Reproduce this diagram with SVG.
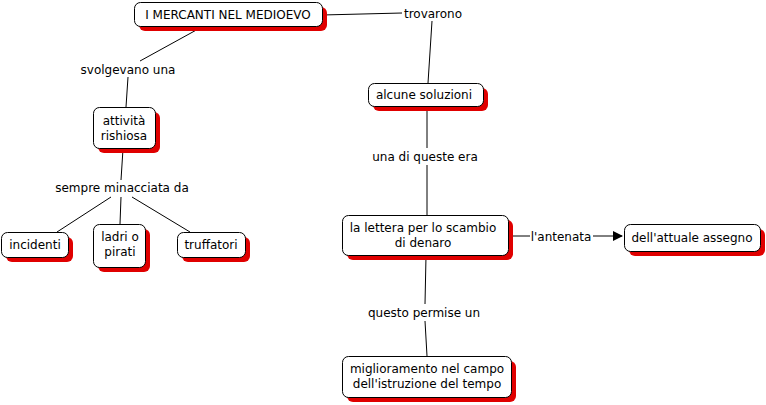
<svg xmlns="http://www.w3.org/2000/svg" width="766" height="405" viewBox="0 0 766 405">
<style>
.sh{fill:#e00000;stroke:none}
.bx{fill:#fff;stroke:#000;stroke-width:1}
text{font-family:"DejaVu Sans",Verdana,sans-serif;font-size:12px;fill:#000;text-anchor:middle}
.ln{stroke:#000;stroke-width:1;fill:none}
</style>
<defs>
<marker id="ar" markerWidth="10" markerHeight="10" refX="9" refY="5" orient="auto" markerUnits="userSpaceOnUse">
<path d="M0,0 L10,5 L0,10 Z" fill="#000"/>
</marker>
</defs>
<rect width="766" height="405" fill="#fff"/>
<g id="connectors">
<line class="ln" x1="200" y1="28" x2="140" y2="61"/>
<line class="ln" x1="128" y1="77" x2="126" y2="107"/>
<line class="ln" x1="322" y1="15" x2="402" y2="13"/>
<line class="ln" x1="432" y1="21" x2="428" y2="83"/>
<line class="ln" x1="427" y1="107" x2="427" y2="148"/>
<line class="ln" x1="427" y1="165" x2="427" y2="215"/>
<line class="ln" x1="508" y1="236" x2="530" y2="236"/>
<line class="ln" x1="593" y1="236" x2="622" y2="236" marker-end="url(#ar)"/>
<line class="ln" x1="426" y1="256" x2="425" y2="304"/>
<line class="ln" x1="425" y1="321" x2="427" y2="356"/>
<line class="ln" x1="123" y1="149" x2="121" y2="180"/>
<line class="ln" x1="111" y1="197" x2="57" y2="232"/>
<line class="ln" x1="121" y1="197" x2="120" y2="224"/>
<line class="ln" x1="132" y1="197" x2="190" y2="232"/>
</g>
<g id="lbl-svolgevano"><text x="128" y="74">svolgevano una</text></g>
<g id="lbl-sempre"><text x="122" y="192">sempre minacciata da</text></g>
<g id="lbl-trovarono"><text x="433" y="18">trovarono</text></g>
<g id="lbl-unadiqueste"><text x="425" y="161">una di queste era</text></g>
<g id="lbl-antenata"><text x="561" y="241">l'antenata</text></g>
<g id="lbl-questo"><text x="424" y="317">questo permise un</text></g>
<g id="n-mercanti">
<rect class="sh" x="139" y="7" width="188" height="24" rx="6"/>
<rect class="bx" x="134.5" y="2.5" width="188" height="24" rx="6"/>
<text x="228" y="19">I MERCANTI NEL MEDIOEVO</text>
</g>
<g id="n-attivita">
<rect class="sh" x="98" y="112" width="62" height="41" rx="6"/>
<rect class="bx" x="93.5" y="107.5" width="62" height="41" rx="6"/>
<text x="124" y="125">attività</text>
<text x="124" y="140">rishiosa</text>
</g>
<g id="n-incidenti">
<rect class="sh" x="6" y="237" width="67" height="25" rx="6"/>
<rect class="bx" x="1.5" y="232.5" width="67" height="25" rx="6"/>
<text x="35" y="249">incidenti</text>
</g>
<g id="n-ladri">
<rect class="sh" x="98" y="229" width="52" height="43" rx="6"/>
<rect class="bx" x="93.5" y="224.5" width="52" height="43" rx="6"/>
<text x="120" y="241">ladri o</text>
<text x="120" y="256">pirati</text>
</g>
<g id="n-truffatori">
<rect class="sh" x="182" y="237" width="68" height="25" rx="6"/>
<rect class="bx" x="177.5" y="232.5" width="68" height="25" rx="6"/>
<text x="211" y="249">truffatori</text>
</g>
<g id="n-alcune">
<rect class="sh" x="373" y="88" width="115" height="23" rx="6"/>
<rect class="bx" x="368.5" y="83.5" width="115" height="23" rx="6"/>
<text x="424" y="99">alcune soluzioni</text>
</g>
<g id="n-lettera">
<rect class="sh" x="347" y="220" width="166" height="40" rx="6"/>
<rect class="bx" x="342.5" y="215.5" width="166" height="40" rx="6"/>
<text x="423" y="232">la lettera per lo scambio</text>
<text x="423" y="247">di denaro</text>
</g>
<g id="n-assegno">
<rect class="sh" x="629" y="229" width="136" height="27" rx="6"/>
<rect class="bx" x="624.5" y="224.5" width="136" height="27" rx="6"/>
<text x="692" y="242">dell'attuale assegno</text>
</g>
<g id="n-miglioramento">
<rect class="sh" x="347" y="361" width="169" height="41" rx="6"/>
<rect class="bx" x="342.5" y="356.5" width="169" height="41" rx="6"/>
<text x="427" y="373">miglioramento nel campo</text>
<text x="427" y="388">dell'istruzione del tempo</text>
</g>
</svg>
